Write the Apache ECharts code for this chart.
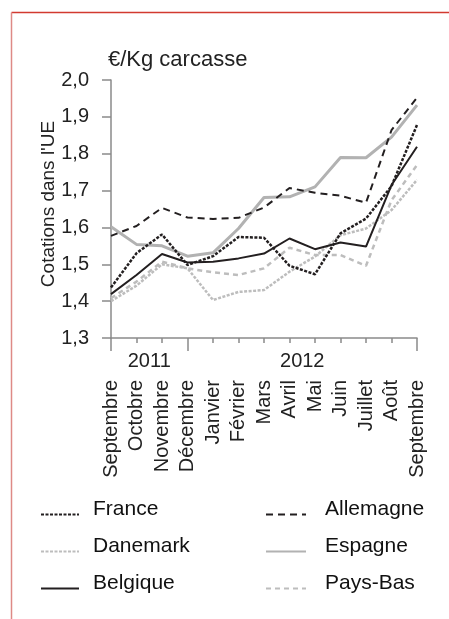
<!DOCTYPE html>
<html>
<head>
<meta charset="utf-8">
<script src="https://cdn.jsdelivr.net/npm/echarts@6/dist/echarts.min.js"></script>
<style>
html,body{margin:0;padding:0;background:#fff;}
#c{width:449px;height:619px;}
</style>
</head>
<body>
<div id="c"></div>
<script>
var months = ['Septembre','Octobre','Novembre','Décembre','Janvier','Février','Mars','Avril','Mai','Juin','Juillet','Août','Septembre'];
var yearLabels = ['2011','2012'];
var yTicks = ['1,3','1,4','1,5','1,6','1,7','1,8','1,9','2,0'];
var france    = [1.437, 1.530, 1.581, 1.498, 1.522, 1.574, 1.572, 1.496, 1.473, 1.584, 1.624, 1.712, 1.878];
var allemagne = [1.577, 1.604, 1.653, 1.627, 1.623, 1.626, 1.654, 1.707, 1.694, 1.686, 1.667, 1.864, 1.952];
var danemark  = [1.400, 1.442, 1.500, 1.489, 1.403, 1.425, 1.430, 1.480, 1.521, 1.579, 1.597, 1.647, 1.729];
var espagne   = [1.602, 1.554, 1.550, 1.522, 1.531, 1.597, 1.681, 1.683, 1.710, 1.790, 1.789, 1.845, 1.932];
var belgique  = [1.419, 1.471, 1.528, 1.505, 1.507, 1.516, 1.529, 1.570, 1.541, 1.559, 1.548, 1.715, 1.819];
var paysBas   = [1.408, 1.453, 1.507, 1.489, 1.478, 1.471, 1.489, 1.545, 1.525, 1.525, 1.496, 1.674, 1.769];

var FONT = '"Liberation Sans", Arial, sans-serif';
var AX = '#8a8a8a';
var BLACK = '#231f20';
var GRAY1 = '#b2b2b2';
var GRAY2 = '#bdbdbd';

function ser(name, data, color, width, type) {
  return {
    name: name, type: 'line', data: data, symbol: 'none', xAxisIndex: 0, yAxisIndex: 0,
    lineStyle: {color: color, width: width, type: type},
    itemStyle: {color: color}
  };
}

function legendCfg(names, left, iconW, textPad) {
  return {
    data: names,
    orient: 'vertical', left: left, top: 499, padding: 0,
    itemWidth: iconW, itemHeight: 14, itemGap: 6, selectedMode: false,
    itemStyle: {opacity: 0},
    formatter: function (n) { return '{t|' + n + '}'; },
    textStyle: {color: '#111', fontSize: 21, fontFamily: FONT,
      rich: {t: {color: '#111', fontSize: 21, fontFamily: FONT, lineHeight: 22, padding: [0, 0, 10, textPad]}}}
  };
}

var chart = echarts.init(document.getElementById('c'), null, {renderer: 'canvas'});
var gridBox = {left: 111, top: 80, right: 32, bottom: 281, containLabel: false};
var option = {
  animation: false,
  textStyle: {fontFamily: FONT},
  grid: [Object.assign({}, gridBox), Object.assign({}, gridBox)],
  xAxis: [{
    type: 'category', gridIndex: 0, data: months, boundaryGap: false,
    axisLine: {lineStyle: {color: AX, width: 1.5}},
    axisTick: {show: true, length: 5, alignWithLabel: true, lineStyle: {color: AX, width: 1.5}, interval: 0},
    axisLabel: {rotate: 90, margin: 42, interval: 0, color: '#222', fontSize: 20, fontFamily: FONT},
    splitLine: {show: false}
  }, {
    type: 'value', gridIndex: 1, min: 0, max: 12,
    axisLine: {show: false},
    axisTick: {show: true, customValues: [0, 3, 12], length: 13, lineStyle: {color: AX, width: 1.5}},
    axisLabel: {customValues: [1.5, 7.5], margin: 13, color: '#222', fontSize: 20, fontFamily: FONT,
      formatter: function (v) { return v < 5 ? yearLabels[0] : yearLabels[1]; }},
    splitLine: {show: false}
  }],
  yAxis: [{
    type: 'value', gridIndex: 0, min: 1.3, max: 2.0, interval: 0.1,
    name: '€/Kg carcasse', nameLocation: 'end', nameGap: 20,
    nameTextStyle: {align: 'left', verticalAlign: 'middle', color: '#222', fontSize: 22, fontFamily: FONT, padding: [0, 0, 0, -3]},
    axisLine: {show: true, lineStyle: {color: AX, width: 1.5}},
    axisTick: {show: true, length: 9, lineStyle: {color: AX, width: 1.5}},
    axisLabel: {margin: 22, color: '#222', fontSize: 20, fontFamily: FONT,
      formatter: function (v) { return yTicks[Math.round((v - 1.3) * 10)]; }},
    splitLine: {show: false}
  }, {
    type: 'value', gridIndex: 1, min: 1.3, max: 2.0, interval: 0.1,
    name: "Cotations dans l'UE", nameLocation: 'middle', nameRotate: 90, nameGap: 53,
    nameTextStyle: {color: '#222', fontSize: 19, fontFamily: FONT, padding: [0, 0, 0, 10]},
    axisLine: {show: false}, axisTick: {show: false}, axisLabel: {show: false}, splitLine: {show: false}
  }],
  legend: [
    legendCfg(['France', 'Danemark', 'Belgique'], 40, 38, 9),
    legendCfg(['Allemagne', 'Espagne', 'Pays-Bas'], 265, 40, 14)
  ],
  graphic: [
    {type: 'line', shape: {x1: 11.5, y1: 12.5, x2: 449, y2: 12.5}, style: {stroke: '#d23a30', lineWidth: 1.5}, silent: true},
    {type: 'line', shape: {x1: 11.5, y1: 12.5, x2: 11.5, y2: 619}, style: {stroke: '#de8a86', lineWidth: 1.5}, silent: true}
  ],
  series: [
    ser('Espagne', espagne, GRAY1, 3, 'solid'),
    ser('Danemark', danemark, GRAY2, 2.5, [3, 1.5]),
    ser('Pays-Bas', paysBas, GRAY2, 2.5, [5, 4]),
    ser('Belgique', belgique, BLACK, 2, 'solid'),
    ser('Allemagne', allemagne, BLACK, 2, [7, 5]),
    ser('France', france, BLACK, 2.5, [3, 1.5])
  ]
};
chart.setOption(option);
</script>
</body>
</html>
